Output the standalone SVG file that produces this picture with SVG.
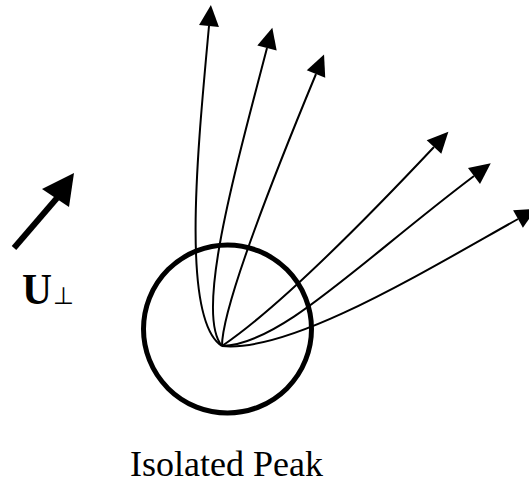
<svg xmlns="http://www.w3.org/2000/svg" width="529" height="483" viewBox="0 0 529 483">
<style>
.c{fill:none;stroke:#000;stroke-width:2;marker-end:url(#ah)}
.lbl{font-family:"Liberation Serif","Times New Roman",serif;fill:#000}
</style>
<defs>
<marker id="ah" markerUnits="userSpaceOnUse" viewBox="0 0 21 20" markerWidth="21" markerHeight="20" refX="0" refY="10" orient="auto" overflow="visible">
<path d="M0,0 L21,10 L0,20 Z" fill="#000"/>
</marker>
</defs>
<rect width="529" height="483" fill="#fff"/>
<g id="peak">
<circle cx="227.5" cy="329" r="84" fill="none" stroke="#000" stroke-width="5"/>
<text class="lbl" x="130" y="476" font-size="36" textLength="193" lengthAdjust="spacingAndGlyphs">Isolated Peak</text>
</g>
<g id="velocity">
<line x1="14" y1="248" x2="57" y2="198" stroke="#000" stroke-width="6"/>
<polygon points="42,189 74,173 69,207" fill="#000"/>
<text class="lbl" x="22" y="304" font-size="44" font-weight="bold" textLength="30" lengthAdjust="spacingAndGlyphs">U</text>
<text class="lbl" x="53" y="304" font-size="24">⊥</text>
</g>
<g id="connectors">
<path class="c" d="M222,346 C180,320 198,146 209,26"/>
<path class="c" d="M222,346 C195,315 233,178 267,48"/>
<path class="c" d="M222,346 C222,320 243,250 316,74"/>
<path class="c" d="M222,346 Q290,300 434,147"/>
<path class="c" d="M222,346 C280,345 360,262 474,176"/>
<path class="c" d="M222,346 C290,353 420,274 518,219"/>
</g>
</svg>
